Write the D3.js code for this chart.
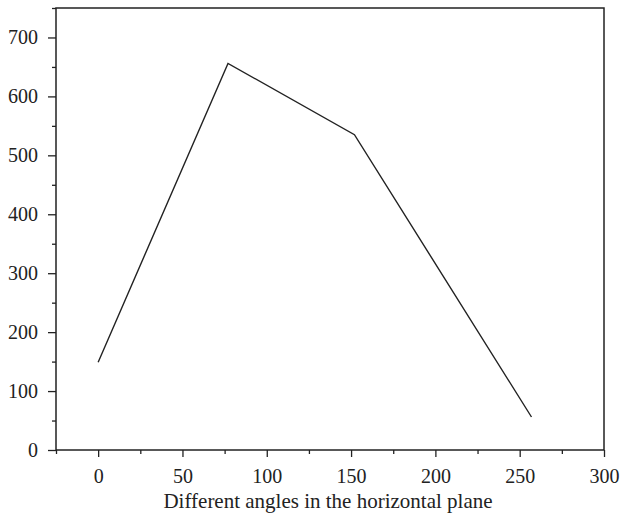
<!DOCTYPE html>
<html>
<head>
<meta charset="utf-8">
<script src="https://cdn.jsdelivr.net/npm/d3@7"></script>
<style>
  body { margin: 0; background: #fff; }
  text { font-family: "Liberation Serif", "DejaVu Serif", serif; fill: #222; }
</style>
</head>
<body>
<div id="root"></div>
<script>
// angle values and measured response
var angles = [0, 77, 152, 257];
var values = [149, 656, 535, 56];
var xTicks = [0, 50, 100, 150, 200, 250, 300];
var yTicks = [0, 100, 200, 300, 400, 500, 600, 700];
var xLabel = "Different angles in the horizontal plane";

var width = 622, height = 515;
var margin = {top: 8, right: 18, bottom: 65, left: 56};

var svg = d3.select("#root")
    .append("svg")
    .attr("width", width)
    .attr("height", height);

var x = d3.scaleLinear().domain([-25, 300]).range([margin.left, width - margin.right]);
var y = d3.scaleLinear().domain([0, 750]).range([height - margin.bottom, margin.top]);

var plotBottom = height - margin.bottom;

// minor ticks
var xMinor = d3.range(-25, 301, 50);
var yMinor = d3.range(50, 751, 100);

var gx = svg.append("g").attr("transform", "translate(0," + plotBottom + ")");
gx.call(d3.axisBottom(x).tickValues(xMinor).tickSize(4).tickFormat(""));
var gxMajor = gx.append("g").call(d3.axisBottom(x).tickValues(xTicks).tickSize(7));
gxMajor.selectAll(".tick text").attr("y", 33).attr("dy", 0);

var gy = svg.append("g").attr("transform", "translate(" + margin.left + ",0)");
gy.call(d3.axisLeft(y).tickValues(yMinor).tickSize(4).tickFormat(""));
gy.append("g").call(d3.axisLeft(y).tickValues(yTicks).tickSize(8).tickPadding(10));

svg.selectAll(".domain").remove();
svg.selectAll(".tick line").attr("stroke", "#222").attr("stroke-width", 1.3);
svg.selectAll(".tick text").attr("font-size", 20).attr("fill", "#222");

// frame
svg.append("rect")
    .attr("x", margin.left)
    .attr("y", margin.top)
    .attr("width", width - margin.right - margin.left)
    .attr("height", plotBottom - margin.top)
    .attr("fill", "none")
    .attr("stroke", "#222")
    .attr("stroke-width", 1.5);

var line = d3.line()
    .x(function (d, i) { return x(angles[i]); })
    .y(function (d) { return y(d); });

svg.append("path")
    .datum(values)
    .attr("d", line)
    .attr("fill", "none")
    .attr("stroke", "#222")
    .attr("stroke-width", 1.4);

svg.append("text")
    .attr("x", 328)
    .attr("y", 508)
    .attr("text-anchor", "middle")
    .attr("font-size", 21)
    .text(xLabel);
</script>
</body>
</html>
